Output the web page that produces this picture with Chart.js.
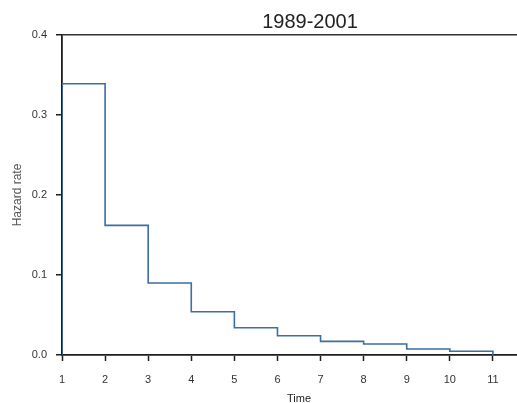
<!DOCTYPE html>
<html lang="en">
<head>
    <meta charset="UTF-8">
    <title>Hazard rate 1989-2001</title>
    <script src="https://cdn.jsdelivr.net/npm/chart.js"></script>
    <style>
        body { margin: 0; overflow: hidden; background: #fff; }
        #wrap { width: 536px; height: 403px; }
    </style>
</head>
<body>
    <div id="wrap"><canvas id="hazardChart" width="536" height="403"></canvas></div>
    <script>
        // step starts (time) and hazard rate for each interval
        const times = [1, 2, 3, 4, 5, 6, 7, 8, 9, 10, 11];
        const hazard = [0.339, 0.162, 0.090, 0.054, 0.034, 0.024, 0.017, 0.0137, 0.0075, 0.0046];
        const yTicks = [0.0, 0.1, 0.2, 0.3, 0.4];
        const chartTitle = '1989-2001';

        // step curve: rise from 0 at the first time, drop back to 0 at the last
        const points = [{ x: times[0], y: 0 }];
        hazard.forEach((h, i) => points.push({ x: times[i], y: h }));
        points.push({ x: times[times.length - 1], y: hazard[hazard.length - 1] });
        points.push({ x: times[times.length - 1], y: 0 });

        const axisColor = '#1e1e1e';
        const fontFamily = '"Liberation Sans", Arial, sans-serif';

        // title sits a bit right of centre in the original
        const titlePlugin = {
            id: 'offsetTitle',
            afterDraw(chart) {
                const c = chart.ctx;
                c.save();
                c.fillStyle = '#222';
                c.font = '20px ' + fontFamily;
                c.textAlign = 'center';
                c.textBaseline = 'middle';
                c.fillText(chartTitle, 310, 22);
                c.restore();
            }
        };

        const ctx = document.getElementById('hazardChart').getContext('2d');
        new Chart(ctx, {
            type: 'line',
            data: {
                datasets: [{
                    data: points,
                    stepped: 'before',
                    borderColor: '#3b6ea5',
                    borderWidth: 1.6,
                    pointRadius: 0,
                    fill: false
                }]
            },
            options: {
                responsive: false,
                animation: false,
                layout: { padding: { top: 35 } },
                plugins: {
                    legend: { display: false },
                    tooltip: { enabled: false },
                    title: { display: false }
                },
                scales: {
                    x: {
                        type: 'linear',
                        min: 1,
                        max: 12,
                        afterBuildTicks: s => { s.ticks = times.map(t => ({ value: t })); },
                        afterFit: s => { s.height = 48; },
                        ticks: {
                            color: '#333',
                            font: { family: fontFamily, size: 11 },
                            padding: 12,
                            maxRotation: 0
                        },
                        grid: {
                            drawOnChartArea: false,
                            drawTicks: true,
                            tickLength: 6,
                            tickColor: axisColor,
                            tickWidth: 1.5
                        },
                        border: { display: true, color: axisColor, width: 1.8 },
                        title: {
                            display: true,
                            text: 'Time',
                            color: '#222',
                            font: { family: fontFamily, size: 11 },
                            padding: { top: 0, bottom: -3 }
                        }
                    },
                    y: {
                        min: 0,
                        max: 0.4,
                        afterBuildTicks: s => { s.ticks = yTicks.map(v => ({ value: v })); },
                        afterFit: s => { s.width = 62; },
                        ticks: {
                            color: '#333',
                            font: { family: fontFamily, size: 11 },
                            padding: 9,
                            callback: v => v.toFixed(1)
                        },
                        grid: {
                            drawOnChartArea: true,
                            drawTicks: true,
                            tickLength: 6,
                            tickColor: axisColor,
                            tickWidth: 1.5,
                            lineWidth: 1.5,
                            color: c => (c.tick && Math.abs(c.tick.value - 0.4) < 1e-9) ? '#333' : 'rgba(0,0,0,0)'
                        },
                        border: { display: true, color: axisColor, width: 1.8 },
                        title: {
                            display: true,
                            text: 'Hazard rate',
                            color: '#555',
                            font: { family: fontFamily, size: 12 },
                            padding: { top: 10, bottom: 0 }
                        }
                    }
                }
            },
            plugins: [titlePlugin]
        });
    </script>
</body>
</html>
